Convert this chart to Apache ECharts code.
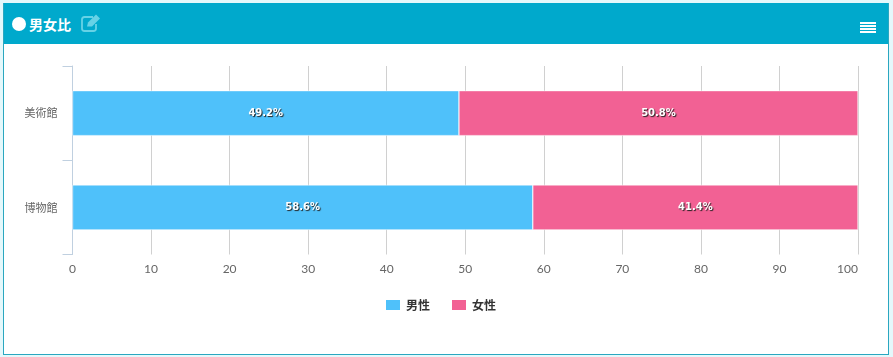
<!DOCTYPE html>
<html>
<head>
<meta charset="utf-8">
<title>男女比</title>
<script src="https://cdn.jsdelivr.net/npm/echarts@6/dist/echarts.min.js"></script>
<style>
html,body{margin:0;padding:0;background:#e4f8fb;overflow:hidden;}
#panel{position:absolute;left:3px;top:3px;background:#fff;border-right:1px solid #2aa7c0;border-bottom:1px solid #2aa7c0;border-left:1px solid #2aa7c0;width:884px;height:351px;}
#head{position:absolute;left:0;top:0;width:100%;height:41px;background:#00a9cc;color:#fff;}
#dot{position:absolute;left:8px;top:14px;width:14px;height:14px;border-radius:50%;background:#fff;}
#ttl{position:absolute;left:25px;top:12px;font:bold 14px/18px "Noto Sans CJK JP";}
#edit{position:absolute;left:77px;top:11px;}
#menu{position:absolute;left:856px;top:19px;}
#chart{position:absolute;left:0;top:0;width:893px;height:357px;}
</style>
</head>
<body>
<div id="panel">
	<div id="head">
		<div id="dot"></div>
		<div id="ttl">男女比</div>
		<svg id="edit" width="20" height="18" viewBox="0 0 20 18">
			<path d="M12 3H3.500Q1 3 1 5.500V14.500Q1 17 3.500 17H12.500Q15 17 15 14.500V10" fill="none" stroke="#66d2e6" stroke-width="1.800"/>
			<path d="M6 12.500L7 8.500L15 .5L19 4.500L11 12.500Z" fill="#66d2e6"/>
		</svg>
		<svg id="menu" width="16" height="12" viewBox="0 0 16 12">
			<path d="M0 1H16M0 4H16M0 7H16M0 10H16" stroke="#fff" stroke-width="2"/>
		</svg>
	</div>
</div>
<div id="chart"></div>
<script>
(function(){
	'use strict';
	var categories = ['博物館', '美術館'];
	var maleValues = [58.6, 49.2];
	var femaleValues = [41.4, 50.8];
	var seriesNames = ['男性', '女性'];
	var xTicks = {min: 0, max: 100, interval: 10};

	var jpFont = '"Noto Sans CJK JP"';

	function barSeries(name, values, color){
		return {
			name: name,
			type: 'bar',
			stack: 'total',
			data: values,
			barWidth: 45,
			itemStyle: {color: color, borderColor: '#fff', borderWidth: 0.5},
			label: {
				show: true,
				position: 'inside',
				formatter: '{c}%',
				color: '#fff',
				fontFamily: 'DejaVu Sans',
				fontWeight: 'bold',
				fontSize: 10,
				textShadowColor: '#222',
				textShadowBlur: 1,
				textShadowOffsetX: 1,
				textShadowOffsetY: 1
			}
		};
	}

	var myChart = echarts.init(document.getElementById('chart'));
	myChart.setOption({
		animation: false,
		legend: {
			data: seriesNames,
			icon: 'rect',
			top: 298,
			left: 384,
			padding: 0,
			itemWidth: 16,
			itemHeight: 12,
			itemGap: 20,
			selectedMode: false,
			textStyle: {color: '#333', fontFamily: jpFont, fontWeight: 'bold', fontSize: 12}
		},
		grid: {left: 72.5, right: 35, top: 66, height: 188.5},
		xAxis: {
			type: 'value',
			min: xTicks.min,
			max: xTicks.max,
			interval: xTicks.interval,
			axisLine: {show: false},
			axisTick: {show: false},
			axisLabel: {color: '#666', fontFamily: 'Lato', fontSize: 12, margin: 9, alignMaxLabel: 'right'},
			splitLine: {show: true, lineStyle: {color: '#d0d0d0', width: 1}}
		},
		yAxis: {
			type: 'category',
			data: categories,
			axisLine: {show: true, lineStyle: {color: '#c0d0e0', width: 1}},
			axisTick: {show: true, length: 10, lineStyle: {color: '#c0d0e0'}},
			axisLabel: {color: '#666', fontFamily: jpFont, fontSize: 11, margin: 15, padding: [0, 0, 2, 0]},
			splitLine: {show: false}
		},
		series: [
			barSeries(seriesNames[0], maleValues, '#4fc1fa'),
			barSeries(seriesNames[1], femaleValues, '#f26194')
		]
	});
})();
</script>
</body>
</html>
